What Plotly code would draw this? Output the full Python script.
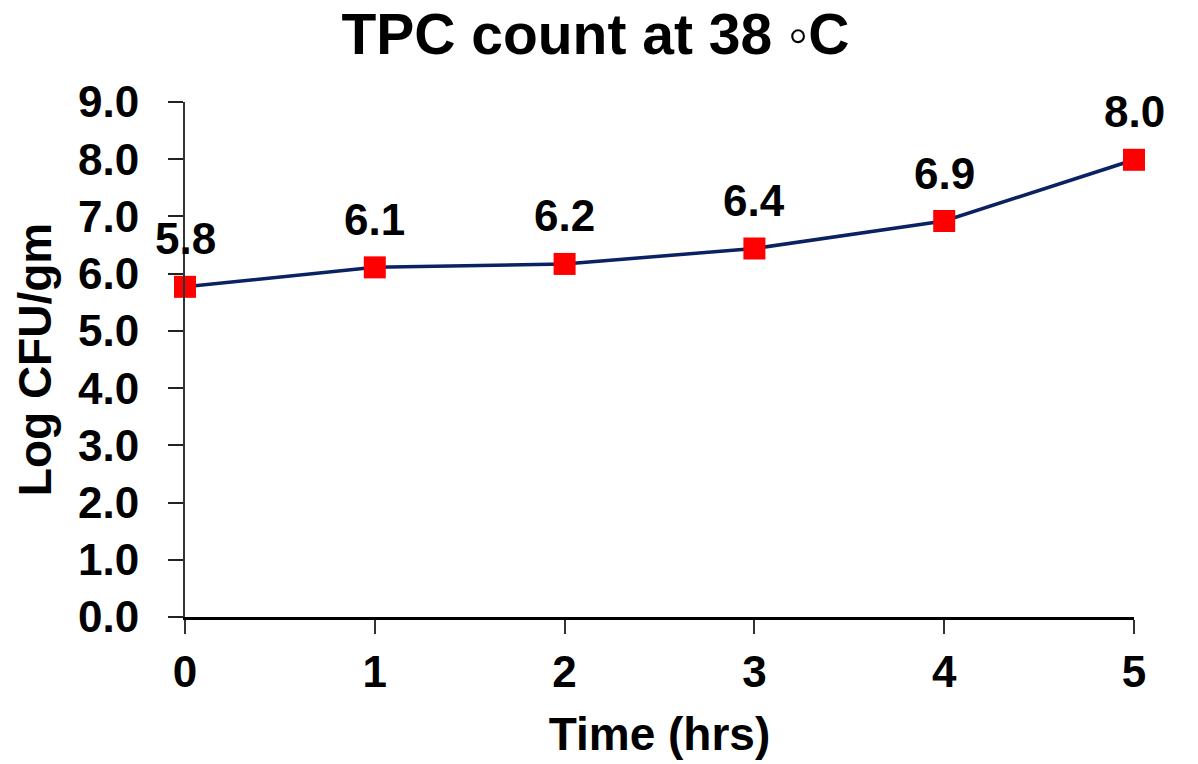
import plotly.graph_objects as go

# Total plate count over incubation time at 38 °C
time_hrs = [0, 1, 2, 3, 4, 5]
log_cfu = [5.77, 6.11, 6.17, 6.44, 6.92, 7.99]
y_ticks = [0, 1, 2, 3, 4, 5, 6, 7, 8, 9]

FONT = "Liberation Sans, Arial, sans-serif"

fig = go.Figure()
fig.add_trace(go.Scatter(
    x=time_hrs,
    y=log_cfu,
    mode="lines+markers",
    line=dict(color="#0A2262", width=3.5),
    marker=dict(symbol="square", size=22, color="#FF0000"),
    cliponaxis=False,
    showlegend=False,
))

# value labels above each point
for t, v in zip(time_hrs, log_cfu):
    fig.add_annotation(
        x=t, y=v, text=f"{v:.1f}", showarrow=False,
        xanchor="center", yanchor="middle", yshift=48,
        font=dict(family=FONT, size=44, color="black", weight="bold"),
    )

fig.update_layout(
    width=1198, height=764,
    margin=dict(l=185, r=64, t=102, b=147),
    paper_bgcolor="white", plot_bgcolor="white",
    font=dict(family=FONT, color="black", weight="bold"),
    title=dict(
        text="TPC count at 38 ◦C",
        x=0.497, xanchor="center",
        y=0.955, yanchor="middle", yref="container",
        font=dict(family=FONT, size=57, color="black", weight="bold"),
    ),
    xaxis=dict(
        range=[0, 5],
        tickvals=time_hrs,
        ticks="outside", ticklen=14, tickwidth=2, tickcolor="#333",
        showline=True, linecolor="black", linewidth=2.5,
        showgrid=False, zeroline=False,
        tickfont=dict(family=FONT, size=44, color="black", weight="bold"),
        title=dict(text="Time (hrs)", standoff=24,
                   font=dict(family=FONT, size=46, color="black", weight="bold")),
    ),
    yaxis=dict(
        range=[0, 9],
        tickvals=y_ticks, tickformat=".1f",
        ticks="outside", ticklen=15, tickwidth=2, tickcolor="#222",
        showline=True, linecolor="#333", linewidth=2,
        showgrid=False, zeroline=False,
        ticklabelstandoff=20,
        tickfont=dict(family=FONT, size=44, color="black", weight="bold"),
        title=dict(text="Log CFU/gm", standoff=12,
                   font=dict(family=FONT, size=46, color="black", weight="bold")),
    ),
)

fig.write_html("out.html")
